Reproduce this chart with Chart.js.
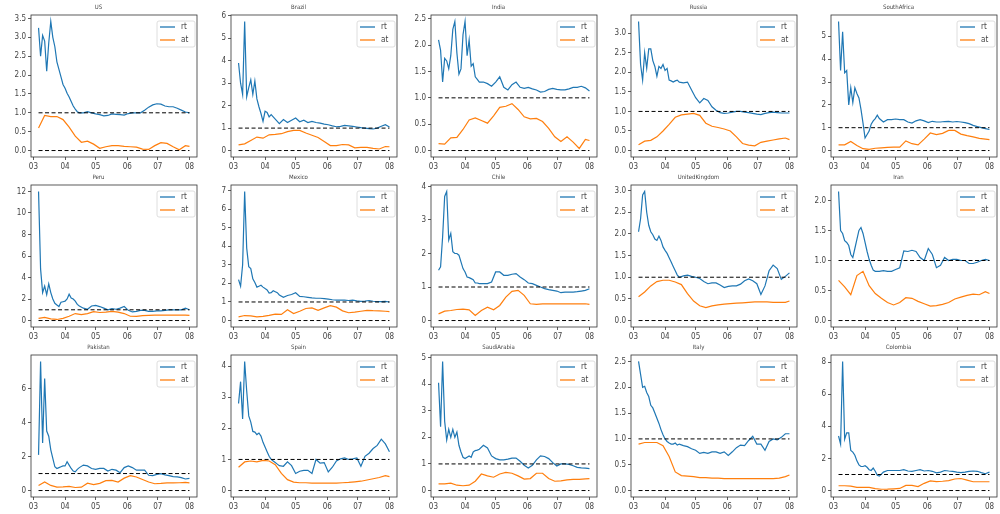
<!DOCTYPE html>
<html lang="en">
<head>
<meta charset="UTF-8">
<title>rt / at by country</title>
<script src="https://cdn.jsdelivr.net/npm/chart.js"></script>
<style>
  body { margin: 0; background: #fff; }
  #grid { position: relative; width: 1000px; height: 514px; }
  #grid canvas { position: absolute; }
</style>
</head>
<body>
<div id="grid"></div>
<script>
// days since 1 March
const daysRt = [5,7,9,11,13,15,17,19,21,23,25,27,29,31,33,35,37,39,41,43,45,
  49,53,57,61,65,69,73,77,81,85,89,93,97,101,105,109,113,117,121,125,129,133,137,141,145,149,153];
const daysAt = [5,11,17,23,29,35,41,47,53,59,65,71,77,83,89,95,101,107,113,119,125,131,137,143,149,153];
const monthTicks = [0, 31, 61, 92, 122, 153];
const monthLabels = ['03', '04', '05', '06', '07', '08'];

const countries = ['US','Brazil','India','Russia','SouthAfrica',
  'Peru','Mexico','Chile','UnitedKingdom','Iran',
  'Pakistan','Spain','SaudiArabia','Italy','Colombia'];
const yStep = [0.5,1,0.5,0.5,1, 2,1,1,0.5,0.5, 2,1,1,0.5,2];

const rtUS = [3.25,2.5,3.05,2.9,2.1,2.85,3.42,3.0,2.75,2.35,2.15,1.95,1.75,1.65,1.52,1.42,1.3,1.18,1.1,1.03,1.0,
  1.0,1.03,1.0,0.97,0.95,0.92,0.93,0.97,0.96,0.95,0.94,0.98,1.0,1.0,1.0,1.07,1.15,1.21,1.24,1.23,1.18,1.16,1.16,1.12,1.07,1.02,1.0];
const atUS = [0.6,0.93,0.9,0.9,0.82,0.62,0.38,0.22,0.25,0.17,0.06,0.1,0.13,0.13,0.11,0.1,0.09,0.04,0.03,0.13,0.21,0.19,0.1,0.02,0.13,0.11];

const rtBrazil = [3.9,3.0,2.5,5.75,2.4,2.8,3.15,2.5,3.1,2.3,1.95,1.65,1.3,1.75,1.7,1.5,1.6,1.5,1.4,1.3,1.2,
  1.38,1.25,1.35,1.45,1.28,1.35,1.25,1.3,1.25,1.22,1.18,1.15,1.1,1.06,1.08,1.12,1.1,1.08,1.05,1.02,1.0,0.98,0.96,1.0,1.08,1.15,1.05];
const atBrazil = [0.25,0.3,0.45,0.6,0.55,0.7,0.72,0.75,0.84,0.9,0.9,0.78,0.68,0.58,0.4,0.22,0.22,0.27,0.25,0.12,0.14,0.14,0.1,0.07,0.18,0.17];

const rtIndia = [2.1,1.9,1.3,1.75,1.7,1.55,1.8,2.3,2.45,1.85,1.45,1.55,2.2,2.45,1.8,2.1,1.6,1.65,1.4,1.35,1.3,
  1.3,1.27,1.22,1.3,1.4,1.2,1.15,1.25,1.3,1.2,1.18,1.2,1.17,1.15,1.11,1.12,1.16,1.18,1.16,1.15,1.15,1.17,1.2,1.2,1.22,1.19,1.13];
const atIndia = [0.13,0.12,0.24,0.25,0.4,0.58,0.62,0.57,0.52,0.66,0.82,0.84,0.89,0.78,0.64,0.6,0.61,0.55,0.42,0.26,0.17,0.26,0.16,0.04,0.21,0.19];

const rtRussia = [3.3,2.2,1.8,2.5,2.1,2.6,2.6,2.3,2.15,1.9,2.15,2.1,2.2,2.05,2.1,1.8,1.78,1.75,1.78,1.8,1.75,
  1.73,1.75,1.55,1.35,1.22,1.33,1.28,1.12,1.03,0.97,0.95,0.96,0.98,1.0,1.0,0.98,0.97,0.95,0.93,0.92,0.95,0.97,0.98,0.97,0.96,0.96,0.96];
const atRussia = [0.15,0.24,0.26,0.35,0.5,0.67,0.85,0.91,0.93,0.95,0.9,0.7,0.62,0.59,0.55,0.5,0.35,0.18,0.14,0.12,0.21,0.24,0.27,0.3,0.32,0.28];

const rtSouthAfrica = [5.65,3.5,5.2,3.4,3.5,2.0,2.75,2.1,2.75,2.5,2.3,1.8,1.2,0.55,0.7,0.85,1.15,1.3,1.4,1.55,1.4,
  1.25,1.35,1.35,1.38,1.35,1.35,1.25,1.2,1.3,1.35,1.3,1.22,1.28,1.25,1.25,1.27,1.28,1.25,1.27,1.25,1.22,1.18,1.1,1.05,1.0,0.96,0.92];
const atSouthAfrica = [0.25,0.25,0.4,0.22,0.08,0.05,0.1,0.12,0.14,0.15,0.15,0.42,0.3,0.25,0.5,0.77,0.7,0.75,0.88,0.88,0.72,0.65,0.6,0.53,0.5,0.48];

const rtPeru = [12.0,4.8,2.6,3.2,2.4,3.4,2.6,2.0,1.6,1.45,1.3,1.7,1.75,1.8,2.0,2.45,2.1,2.0,1.8,1.5,1.35,
  1.15,1.05,1.35,1.4,1.3,1.15,1.0,1.1,1.05,1.15,1.3,0.95,0.8,0.85,0.95,0.95,0.85,0.85,0.9,0.9,0.95,1.0,1.0,1.0,1.0,1.15,1.0];
const atPeru = [0.2,0.3,0.15,0.1,0.2,0.4,0.65,0.55,0.65,0.82,0.75,0.78,0.85,0.78,0.65,0.4,0.38,0.45,0.48,0.5,0.5,0.5,0.5,0.5,0.5,0.48];

const rtMexico = [2.2,1.85,3.0,6.95,3.9,2.9,2.8,2.25,2.05,1.8,1.85,1.9,1.8,1.72,1.65,1.48,1.5,1.6,1.55,1.5,1.38,
  1.25,1.35,1.4,1.5,1.3,1.28,1.25,1.22,1.2,1.2,1.18,1.15,1.12,1.1,1.1,1.1,1.08,1.1,1.06,1.03,1.05,1.08,1.04,1.02,1.02,1.03,1.0];
const atMexico = [0.2,0.27,0.25,0.2,0.22,0.28,0.35,0.33,0.58,0.38,0.5,0.65,0.68,0.55,0.68,0.8,0.72,0.52,0.42,0.45,0.5,0.55,0.53,0.52,0.5,0.48];

const rtChile = [1.5,1.6,2.5,3.7,3.85,2.4,2.6,2.05,2.0,2.0,1.95,1.75,1.55,1.45,1.3,1.28,1.25,1.22,1.12,1.12,1.1,
  1.1,1.1,1.15,1.45,1.45,1.35,1.35,1.38,1.4,1.3,1.22,1.12,1.1,1.05,1.0,0.95,0.92,0.9,0.88,0.83,0.85,0.85,0.85,0.86,0.88,0.9,0.95];
const atChile = [0.2,0.28,0.3,0.33,0.34,0.32,0.15,0.3,0.4,0.32,0.45,0.7,0.87,0.9,0.75,0.5,0.48,0.5,0.5,0.5,0.5,0.5,0.5,0.5,0.5,0.48];

const rtUnitedKingdom = [2.05,2.35,2.9,2.98,2.5,2.2,2.05,1.98,1.88,1.85,1.95,1.85,1.7,1.62,1.55,1.45,1.35,1.25,1.15,1.05,1.0,
  1.03,1.05,1.02,1.0,0.97,0.9,0.85,0.87,0.87,0.82,0.76,0.79,0.8,0.8,0.84,0.92,0.96,0.92,0.85,0.6,0.8,1.15,1.28,1.2,0.95,1.02,1.1];
const atUnitedKingdom = [0.55,0.66,0.8,0.9,0.93,0.93,0.89,0.83,0.62,0.45,0.34,0.3,0.34,0.36,0.38,0.39,0.4,0.41,0.42,0.43,0.43,0.43,0.42,0.42,0.42,0.45];

const rtIran = [2.15,1.5,1.45,1.33,1.3,1.25,1.1,1.05,1.2,1.35,1.5,1.55,1.45,1.3,1.15,1.02,0.92,0.84,0.82,0.82,0.82,
  0.83,0.82,0.82,0.85,0.88,1.16,1.15,1.17,1.15,1.05,1.0,1.2,1.1,0.88,0.92,1.05,1.0,1.02,1.02,1.0,1.0,0.95,0.95,0.97,1.0,1.02,1.0];
const atIran = [0.67,0.56,0.43,0.75,0.82,0.58,0.45,0.37,0.3,0.26,0.3,0.38,0.37,0.32,0.28,0.24,0.25,0.27,0.3,0.36,0.39,0.42,0.44,0.43,0.48,0.45];

const rtPakistan = [2.1,7.6,2.8,6.6,3.5,3.2,2.4,1.9,1.4,1.3,1.35,1.4,1.45,1.45,1.7,1.5,1.3,1.15,1.1,1.25,1.35,
  1.5,1.45,1.3,1.25,1.3,1.3,1.15,1.25,1.2,1.05,1.35,1.45,1.35,1.2,1.2,1.2,0.9,0.88,0.95,1.0,0.92,0.88,0.82,0.8,0.76,0.68,0.72];
const atPakistan = [0.3,0.5,0.3,0.2,0.22,0.25,0.18,0.2,0.43,0.35,0.42,0.58,0.6,0.5,0.73,0.88,0.8,0.65,0.5,0.4,0.42,0.45,0.45,0.46,0.48,0.45];

const rtSpain = [2.8,3.5,2.3,4.15,3.2,2.4,2.2,1.9,1.88,1.8,1.85,1.75,1.55,1.4,1.25,1.1,1.0,0.95,0.9,0.85,0.8,
  0.78,0.92,0.8,0.55,0.62,0.65,0.65,0.55,1.0,0.88,0.9,0.6,0.75,0.95,1.02,1.05,1.0,1.02,1.05,0.78,1.1,1.2,1.35,1.45,1.65,1.5,1.25];
const atSpain = [0.75,0.92,0.95,0.92,0.97,0.95,0.83,0.55,0.35,0.27,0.25,0.25,0.24,0.24,0.24,0.24,0.24,0.25,0.26,0.28,0.3,0.34,0.38,0.42,0.48,0.45];

const rtSaudiArabia = [4.05,2.4,4.85,2.6,1.9,2.3,2.0,2.3,2.0,2.2,1.7,1.45,1.25,1.2,1.25,1.3,1.25,1.45,1.5,1.52,1.55,
  1.7,1.6,1.3,1.2,1.15,1.15,1.18,1.22,1.22,1.1,0.95,0.85,0.95,1.15,1.3,1.28,1.2,1.05,0.92,1.0,1.0,0.98,0.93,0.87,0.85,0.84,0.82];
const atSaudiArabia = [0.25,0.25,0.28,0.2,0.18,0.2,0.35,0.62,0.55,0.5,0.62,0.68,0.65,0.55,0.43,0.45,0.65,0.65,0.45,0.35,0.36,0.4,0.42,0.42,0.44,0.45];

const rtItaly = [2.5,2.25,2.0,2.02,1.9,1.82,1.65,1.6,1.5,1.4,1.3,1.18,1.08,1.0,0.95,0.92,0.9,0.9,0.92,0.88,0.9,
  0.87,0.85,0.81,0.78,0.72,0.74,0.72,0.75,0.75,0.72,0.75,0.68,0.75,0.83,0.88,0.87,0.97,1.05,0.9,0.9,0.78,0.95,1.0,0.98,1.03,1.1,1.1];
const atItaly = [0.9,0.93,0.93,0.93,0.87,0.66,0.36,0.29,0.28,0.27,0.25,0.25,0.24,0.24,0.23,0.23,0.23,0.23,0.23,0.23,0.23,0.23,0.23,0.24,0.27,0.3];

const rtColombia = [3.4,2.9,8.05,3.2,3.6,3.6,2.5,2.4,2.2,1.85,1.6,1.5,1.5,1.55,1.45,1.3,1.25,1.4,1.2,0.95,0.9,
  1.15,1.25,1.25,1.25,1.25,1.3,1.22,1.2,1.25,1.3,1.22,1.25,1.2,1.1,1.15,1.25,1.22,1.2,1.15,1.12,1.15,1.2,1.22,1.2,1.12,1.05,1.15];
const atColombia = [0.3,0.3,0.28,0.2,0.2,0.2,0.12,0.08,0.09,0.11,0.13,0.32,0.32,0.25,0.45,0.6,0.56,0.58,0.62,0.72,0.75,0.65,0.55,0.55,0.55,0.55];

const rtData = [rtUS, rtBrazil, rtIndia, rtRussia, rtSouthAfrica, rtPeru, rtMexico, rtChile,
  rtUnitedKingdom, rtIran, rtPakistan, rtSpain, rtSaudiArabia, rtItaly, rtColombia];
const atData = [atUS, atBrazil, atIndia, atRussia, atSouthAfrica, atPeru, atMexico, atChile,
  atUnitedKingdom, atIran, atPakistan, atSpain, atSaudiArabia, atItaly, atColombia];

const FONT = "'DejaVu Sans Condensed', 'DejaVu Sans', sans-serif";
Chart.defaults.font.family = FONT;
Chart.defaults.color = '#444';

const CELL_W = 200, CELL_H = 170;
const first = daysRt[0], last = daysRt[daysRt.length - 1];
const xPad = 0.05 * (last - first);

// box around the axes plus a matplotlib style legend in the upper right
const frameAndLegend = {
  id: 'frameAndLegend',
  afterDraw(chart) {
    const { ctx, chartArea: a } = chart;
    ctx.save();
    ctx.strokeStyle = '#333';
    ctx.lineWidth = 0.8;
    ctx.strokeRect(a.left, a.top, a.right - a.left, a.bottom - a.top);

    const w = 38, h = 26, x = a.right - w - 2, y = a.top + 6;
    ctx.fillStyle = 'rgba(255,255,255,0.85)';
    ctx.strokeStyle = '#d6d6d6';
    ctx.beginPath();
    ctx.roundRect(x, y, w, h, 2);
    ctx.fill();
    ctx.stroke();
    ctx.font = '8px ' + FONT;
    ctx.textBaseline = 'middle';
    chart.data.datasets.slice(0, 2).forEach((ds, i) => {
      const ly = y + 6 + i * 13;
      ctx.strokeStyle = ds.borderColor;
      ctx.lineWidth = 1.3;
      ctx.beginPath();
      ctx.moveTo(x + 3, ly);
      ctx.lineTo(x + 18, ly);
      ctx.stroke();
      ctx.fillStyle = '#444';
      ctx.fillText(ds.label, x + 24, ly);
    });
    ctx.restore();
  }
};

const grid = document.getElementById('grid');

countries.forEach((name, i) => {
  const canvas = document.createElement('canvas');
  canvas.width = CELL_W;
  canvas.height = CELL_H;
  canvas.style.left = (i % 5) * CELL_W + 'px';
  canvas.style.top = Math.floor(i / 5) * CELL_H + 'px';
  grid.appendChild(canvas);

  const rt = rtData[i], at = atData[i];
  const top = Math.max(...rt);
  const step = yStep[i];
  const dec = step < 1 ? 1 : 0;

  const hline = v => [{ x: first, y: v }, { x: last, y: v }];

  new Chart(canvas, {
    type: 'line',
    data: {
      datasets: [
        { label: 'rt', data: daysRt.map((d, k) => ({ x: d, y: rt[k] })),
          borderColor: '#1f77b4', borderWidth: 1.2, pointRadius: 0, tension: 0, order: 2 },
        { label: 'at', data: daysAt.map((d, k) => ({ x: d, y: at[k] })),
          borderColor: '#ff7f0e', borderWidth: 1.2, pointRadius: 0, tension: 0, order: 3 },
        { label: 'one', data: hline(1), borderColor: '#000', borderWidth: 1,
          borderDash: [4, 2.5], pointRadius: 0, order: 1 },
        { label: 'zero', data: hline(0), borderColor: '#000', borderWidth: 1,
          borderDash: [4, 2.5], pointRadius: 0, order: 1 }
      ]
    },
    options: {
      responsive: false,
      animation: false,
      devicePixelRatio: 1,
      events: [],
      layout: { padding: { left: 0, right: 3, top: 0, bottom: 0 } },
      plugins: {
        legend: { display: false },
        tooltip: { enabled: false },
        title: {
          display: true,
          text: name,
          color: '#444',
          font: { size: 6, weight: 'normal' },
          padding: { top: 4, bottom: 3.8 }
        }
      },
      scales: {
        x: {
          type: 'linear',
          min: first - xPad,
          max: last + xPad,
          afterBuildTicks: s => { s.ticks = monthTicks.map(v => ({ value: v })); },
          afterFit: s => { s.height = 13; },
          ticks: {
            callback: v => monthLabels[monthTicks.indexOf(v)],
            font: { size: 8 },
            padding: 2.5,
            maxRotation: 0,
            autoSkip: false
          },
          grid: { drawOnChartArea: false, tickLength: 3, color: '#333', lineWidth: 0.8 },
          border: { display: false }
        },
        y: {
          type: 'linear',
          min: -0.05 * top,
          max: 1.05 * top,
          afterBuildTicks: s => {
            const t = [];
            for (let k = 0; k * step <= top * 1.05; k++) t.push({ value: k * step });
            s.ticks = t;
          },
          afterFit: s => { s.width = 31; },
          ticks: {
            callback: v => v.toFixed(dec),
            font: { size: 8 },
            padding: 2,
            autoSkip: false
          },
          grid: { drawOnChartArea: false, tickLength: 3, color: '#333', lineWidth: 0.8 },
          border: { display: false }
        }
      }
    },
    plugins: [frameAndLegend]
  });
});
</script>
</body>
</html>
